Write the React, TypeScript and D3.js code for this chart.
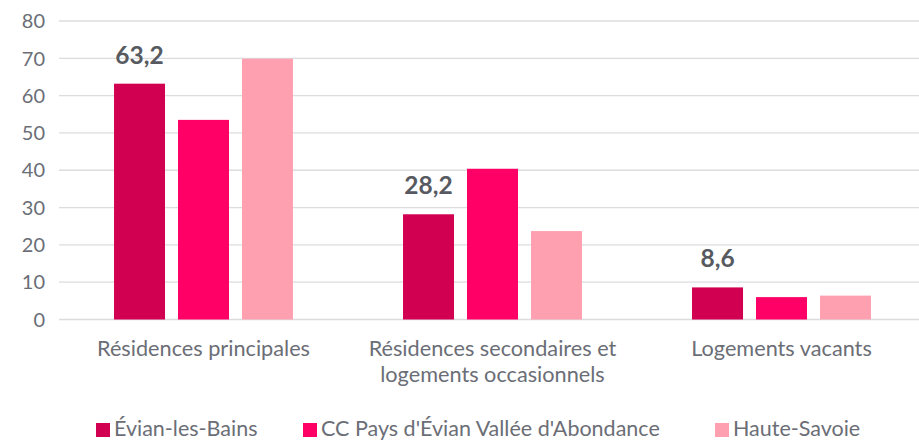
import React, { useEffect, useRef } from 'react'
import * as d3 from 'd3'

const categories = ['Résidences principales', 'Résidences secondaires et|logements occasionnels', 'Logements vacants']
const seriesNames = ['Évian-les-Bains', "CC Pays d'Évian Vallée d'Abondance", 'Haute-Savoie']
const evian = [63.2, 28.2, 8.6]
const ccPays = [53.5, 40.4, 6.0]
const hauteSavoie = [69.9, 23.7, 6.4]
const colors = ['#d20050', '#ff0066', '#ffa0b0']
const yTicks = [0, 10, 20, 30, 40, 50, 60, 70, 80]

export default function App() {
    const ref = useRef<SVGSVGElement>(null)

    useEffect(() => {
        const width = 919
        const svg = d3.select(ref.current)
        svg.selectAll('*').remove()
        const font = 'Lato, "Open Sans", sans-serif'
        const textColor = '#6b6e76'
        const labelColor = '#575b61'

        const y = d3.scaleLinear().domain([0, 80]).range([319.5, 21])
        const x0 = d3.scaleBand().domain(categories).range([59, 926]).paddingInner(0).paddingOuter(0)
        const x1 = d3.scaleBand().domain(seriesNames).range([0, x0.bandwidth()]).paddingInner(0.203).paddingOuter(0.86)

        // grid
        svg.append('g').selectAll('line')
            .data(yTicks)
            .enter()
            .append('line')
            .attr('x1', 59).attr('x2', width)
            .attr('y1', d => y(d)).attr('y2', d => y(d))
            .style('stroke', '#dcdcdf')
            .style('stroke-width', d => d === 0 ? 1.6 : 1.3)

        svg.append('g').selectAll('text')
            .data(yTicks)
            .enter()
            .append('text')
            .attr('x', 45)
            .attr('y', d => y(d))
            .attr('dy', '0.36em')
            .attr('text-anchor', 'end')
            .style('font-family', font)
            .style('font-size', '20px')
            .style('fill', textColor)
            .text(d => d)

        const series = [evian, ccPays, hauteSavoie]
        series.forEach((vals, s) => {
            svg.append('g').selectAll('rect')
                .data(vals)
                .enter()
                .append('rect')
                .attr('x', (d, i) => (x0(categories[i]) as number) + (x1(seriesNames[s]) as number))
                .attr('y', d => y(d))
                .attr('width', x1.bandwidth())
                .attr('height', d => y(0) - y(d))
                .style('fill', colors[s])
        })

        // labels on first series
        svg.append('g').selectAll('text')
            .data(evian)
            .enter()
            .append('text')
            .attr('x', (d, i) => (x0(categories[i]) as number) + (x1(seriesNames[0]) as number) + x1.bandwidth() / 2)
            .attr('y', d => y(d) - 20)
            .attr('text-anchor', 'middle')
            .style('font-family', font)
            .style('font-size', '24.5px')
            .style('font-weight', 'bold')
            .style('fill', labelColor)
            .text(d => String(d).replace('.', ','))

        // category labels
        categories.forEach(c => {
            const lines = c.split('|')
            const t = svg.append('text')
                .attr('text-anchor', 'middle')
                .style('font-family', font)
                .style('font-size', '21.7px')
                .style('fill', textColor)
            lines.forEach((l, k) => {
                t.append('tspan')
                    .attr('x', (x0(c) as number) + x0.bandwidth() / 2)
                    .attr('y', 356 + k * 26)
                    .text(l)
            })
        })

        // legend
        const legendX = [96, 303, 715]
        seriesNames.forEach((n, s) => {
            svg.append('rect')
                .attr('x', legendX[s]).attr('y', 423)
                .attr('width', 14).attr('height', 14)
                .style('fill', colors[s])
            svg.append('text')
                .attr('x', legendX[s] + 18).attr('y', 436)
                .style('font-family', font)
                .style('font-size', '21.5px')
                .style('fill', textColor)
                .text(n)
        })
    }, [])

    return (
        <svg ref={ref} width={919} height={442} style={{ position: 'absolute', left: 0, top: 0, background: '#fff' }}></svg>
    )
}
